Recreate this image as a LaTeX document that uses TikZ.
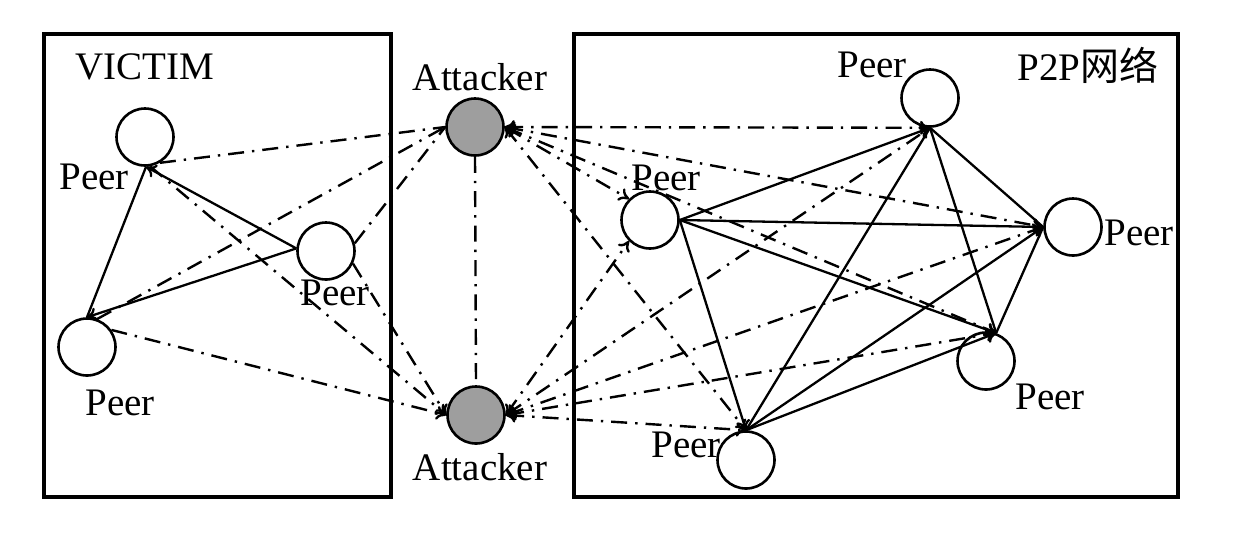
\documentclass[tikz,border=0pt]{standalone}
\usepackage{fontspec}
\setmainfont{Liberation Serif}
\newfontfamily\cjk{Noto Sans CJK SC}
\usetikzlibrary{arrows.meta}
\begin{document}
\begin{tikzpicture}[x=0.5pt,y=-0.5pt,
  peer/.style={circle,draw,line width=1.3pt,minimum size=28.5pt,inner sep=0pt,fill=white},
  attacker/.style={peer,fill=black!38},
  frame/.style={draw,line width=1.7pt},
  lbl/.style={font=\fontsize{19.5pt}{21pt}\selectfont,inner sep=0pt},
  link/.style={line width=1.15pt},
  dd/.style={line width=1.2pt,dash pattern=on 8pt off 4pt on 1.2pt off 4pt},
  tip/.style={-{To[length=5pt,width=7pt]}},
  tips/.style={{To[length=5pt,width=7pt]}-{To[length=5pt,width=7pt]}}
]
\useasboundingbox (0,0) rectangle (1240,537);
\fill[white] (0,0) rectangle (1240,537);
\draw[frame] (44,34) rectangle (391,497);
\draw[frame] (574,34) rectangle (1178,497);

% nodes
\node[peer] (V1) at (145,137) {};
\node[peer] (V2) at (326,251) {};
\node[peer] (V3) at (87,347) {};
\node[attacker] (A1) at (475,127) {};
\node[attacker] (A2) at (476,415) {};
\node[peer] (R1) at (650,220) {};
\node[peer] (R2) at (930,98) {};
\node[peer] (R3) at (1073,227) {};
\node[peer] (R4) at (986,361) {};
\node[peer] (R5) at (746,460) {};

% labels
\node[lbl] (tV) at (145,67) {VICTIM};
\node[lbl] (tP2P) at (1088,65) {P2P{\cjk 网络}};
\node[lbl] (lV1) at (94,177) {Peer};
\node[lbl] (lV2) at (335,293) {Peer};
\node[lbl] (lV3) at (120,403) {Peer};
\node[lbl] (lA1) at (480,77) {Attacker};
\node[lbl] (lA2) at (480,467) {Attacker};
\node[lbl] (lR1) at (666,178) {Peer};
\node[lbl] (lR2) at (872,65) {Peer};
\node[lbl] (lR3) at (1139,233) {Peer};
\node[lbl] (lR4) at (1050,397) {Peer};
\node[lbl] (lR5) at (686,445) {Peer};

% victim solid links
\draw[link] (V1.-88) -- (V3.north);
\draw[link,tip] (V2.175) -- (V1.-88);
\draw[link,tip] (V2.175) -- (V3.north);

% attacker link
\draw[dd] (A1.south) -- (A2.north);

% victim dash-dot links
\draw[dd] (V1.-60) -- (A1.west);
\draw[dd] (V3.70) -- (A1.west);
\draw[dd] (V2.15) -- (A1.west);
\draw[dd,tip] (V1.-80) -- (A2.west);
\draw[dd,tip] (V2.-25) -- (A2.west);
\draw[dd,tip] (V3.35) -- (A2.west);

% attacker - P2P dash-dot links
\draw[dd,tips] (A1.east) -- (R2.south);
\draw[dd,tips] (A1.east) -- (R1.135);
\draw[dd,tips] (A1.east) -- (R3.west);
\draw[dd,tips] (A1.east) -- (R4.70);
\draw[dd,tips] (A1.east) -- (R5.north);
\draw[dd,tips] (A2.east) -- (R1.-135);
\draw[dd,tips] (A2.east) -- (R2.south);
\draw[dd,tips] (A2.east) -- (R3.west);
\draw[dd,tips] (A2.east) -- (R4.70);
\draw[dd,tips] (A2.east) -- (R5.north);

% P2P solid links
\draw[link,tip] (R1.east) -- (R2.south);
\draw[link,tip] (R1.east) -- (R3.west);
\draw[link,tip] (R1.east) -- (R4.70);
\draw[link,tip] (R1.east) -- (R5.north);
\draw[link] (R2.south) -- (R3.west);
\draw[link] (R2.south) -- (R4.70);
\draw[link] (R2.south) -- (R5.north);
\draw[link] (R3.west) -- (R4.70);
\draw[link,tip] (R5.north) -- (R3.west);
\draw[link,tip] (R5.north) -- (R4.70);
\end{tikzpicture}
\end{document}
